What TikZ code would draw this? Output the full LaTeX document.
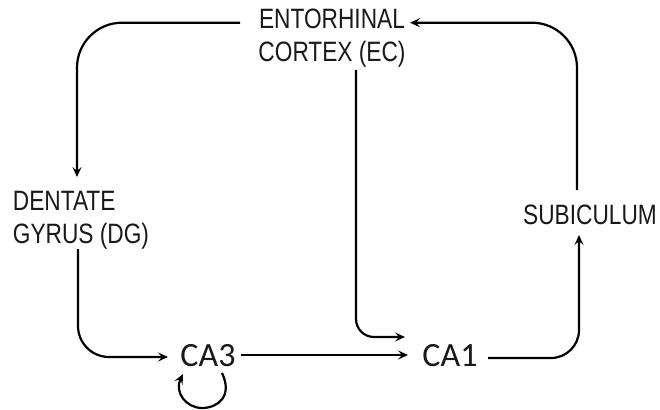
\documentclass[tikz,border=0pt]{standalone}
\usepackage{fontspec}
\setmainfont{Liberation Sans}
\newfontfamily\narrowf[FakeStretch=0.81]{Liberation Sans}
\newfontfamily\calf{Carlito}
\usetikzlibrary{arrows.meta,calc}
\begin{document}
\begin{tikzpicture}[x=1pt,y=-1pt,
  lbl/.style={inner sep=0pt, font=\narrowf\fontsize{28}{33}\selectfont, text=black!90},
  calbl/.style={inner sep=0pt, font=\calf\fontsize{34}{40}\selectfont, text=black!90},
  arr/.style={line width=2.2pt, -{Stealth[length=10pt,width=9pt,inset=4pt]}}]
\useasboundingbox (0,0) rectangle (660,409);
\node[lbl, align=center] (ec) at (332,38) {ENTORHINAL\\CORTEX (EC)};
\node[lbl, align=left] (dg) at (81,220) {DENTATE\\GYRUS (DG)};
\node[lbl] (sub) at (590,215) {SUBICULUM};
\node[calbl] (ca3) at (208,356) {CA3};
\node[calbl] (ca1) at (450,356) {CA1};
% EC -> DG
\draw[arr, rounded corners=45pt] ([shift={(-92,-15.3)}]ec.center) -| ([shift={(-4,-43)}]dg.center);
% SUB -> EC
\draw[arr, rounded corners=45pt] ([shift={(-13,-25)}]sub.center) |- ([shift={(78,-15.3)}]ec.center);
% CA1 -> SUB
\draw[arr, rounded corners=28pt] ([shift={(38,2)}]ca1.center) -| ([shift={(-11,20)}]sub.center);
% DG -> CA3
\draw[arr, rounded corners=31pt] ([shift={(-3,29)}]dg.center) |- ([shift={(-40,1)}]ca3.center);
% CA3 -> CA1
\draw[arr] ([shift={(33,-1)}]ca3.center) -- ([shift={(-42,-1)}]ca1.center);
% EC -> CA1
\draw[arr, rounded corners=18pt] ([shift={(24,32)}]ec.center) |- ([shift={(-45,-19)}]ca1.center);
% CA3 self loop
\draw[arr] ([shift={(14,17)}]ca3.center) .. controls ([shift={(25,40)}]ca3.center) and ([shift={(10,52)}]ca3.center) .. ([shift={(-6,52)}]ca3.center) .. controls ([shift={(-22,52)}]ca3.center) and ([shift={(-34,36)}]ca3.center) .. ([shift={(-25,18)}]ca3.center);
\end{tikzpicture}
\end{document}
